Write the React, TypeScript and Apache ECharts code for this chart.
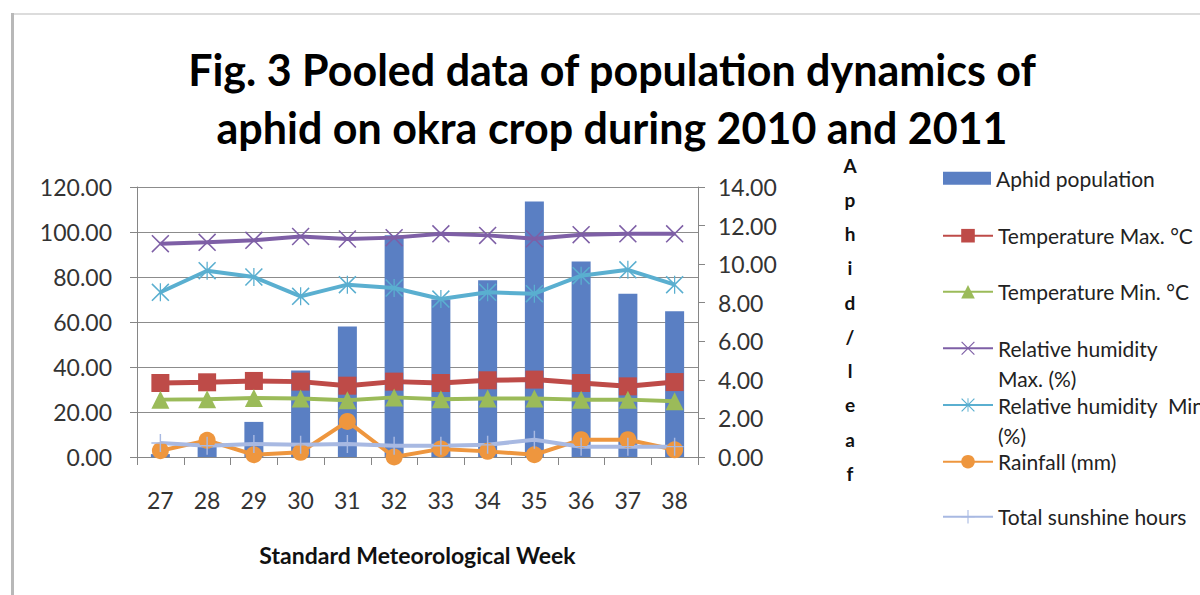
import React, { useEffect, useRef } from "react";
import * as echarts from "echarts";

const weeks = ["27", "28", "29", "30", "31", "32", "33", "34", "35", "36", "37", "38"];
const aphidPopulation = [0.15, 0.82, 1.82, 4.49, 6.77, 11.5, 8.17, 9.17, 13.25, 10.14, 8.47, 7.56];
const tempMax = [32.9, 33.2, 33.8, 33.5, 31.7, 33.5, 32.9, 34.1, 34.4, 32.9, 31.4, 33.3];
const tempMin = [25.5, 25.7, 26.2, 26.0, 25.2, 26.5, 25.7, 26.0, 26.0, 25.5, 25.5, 24.8];
const rhMax = [94.8, 95.4, 96.3, 98.0, 96.9, 97.5, 99.2, 98.5, 97.0, 98.8, 99.2, 99.2];
const rhMin = [73.2, 82.8, 80.0, 71.4, 76.6, 75.1, 70.2, 73.2, 72.6, 80.6, 83.2, 76.6];
const rainfall = [2.8, 7.4, 1.0, 2.1, 15.8, 0.0, 3.6, 2.5, 1.0, 7.7, 7.7, 3.2];
const sunshine = [6.2, 5.0, 5.8, 5.4, 5.8, 5.0, 5.0, 5.4, 7.7, 4.6, 4.6, 4.6];

const leftTicks = { min: 0, max: 120, interval: 20 };
const rightTicks = { min: 0, max: 14, interval: 2 };

const NAMES = {
  aphid: "Aphid population",
  tmax: "Temperature Max. °C",
  tmin: "Temperature Min. °C",
  rhmax: "Relative humidity Max. (%)",
  rhmin: "Relative humidity  Min (%)",
  rain: "Rainfall (mm)",
  sun: "Total sunshine hours",
};

const X_PATH = "path://M0,1.2 L1.2,0 L10,8.8 L18.8,0 L20,1.2 L11.2,10 L20,18.8 L18.8,20 L10,11.2 L1.2,20 L0,18.8 L8.8,10 Z";
const STAR_PATH =
  "path://M0,1.2 L1.2,0 L10,8.8 L18.8,0 L20,1.2 L11.2,10 L20,18.8 L18.8,20 L10,11.2 L1.2,20 L0,18.8 L8.8,10 Z M9.3,0 L10.7,0 L10.7,20 L9.3,20 Z";
const PLUS_PATH = "path://M9.2,0 L10.8,0 L10.8,9.2 L20,9.2 L20,10.8 L10.8,10.8 L10.8,20 L9.2,20 L9.2,10.8 L0,10.8 L0,9.2 L9.2,9.2 Z";

const FONT = "Lato, 'Open Sans', sans-serif";

export default function App() {
  const ref = useRef<HTMLDivElement>(null);

  useEffect(() => {
    if (!ref.current) return;
    const chart = echarts.init(ref.current, null, { renderer: "svg" });

    const lineSeries = (name: string, data: number[], color: string, symbol: string, size: number, width = 4) => ({
      name,
      type: "line",
      yAxisIndex: 0,
      data,
      symbol,
      symbolSize: size,
      showSymbol: true,
      lineStyle: { color, width },
      itemStyle: { color },
      z: 3,
    });

    const legendTop = (cy: number, h = 24) => cy - h / 2;
    const legendBase = {
      orient: "vertical",
      left: 942,
      padding: 0,
      itemWidth: 50,
      itemHeight: 17,
      selectedMode: false,
      textStyle: { fontFamily: FONT, fontSize: 21, color: "#222", lineHeight: 24 },
    };

    const option: any = {
      animation: false,
      backgroundColor: "#ffffff",
      textStyle: { fontFamily: FONT },
      graphic: [
        { type: "rect", left: 11, top: 13, shape: { width: 1200, height: 2 }, style: { fill: "#dcdcdc" }, silent: true },
        { type: "rect", left: 11, top: 13, shape: { width: 3, height: 600 }, style: { fill: "#b8b8b8" }, silent: true },
        {
          type: "text",
          x: 612,
          y: 40,
          style: {
            text: "Fig. 3 Pooled data of population dynamics of\naphid on okra crop during 2010 and 2011",
            align: "center",
            verticalAlign: "top",
            font: `bold 43px ${FONT}`,
            lineHeight: 58,
            fill: "#000",
          },
        },
        {
          type: "text",
          x: 850,
          y: 148,
          style: {
            text: "A\np\nh\ni\nd\n/\nl\ne\na\nf",
            align: "center",
            verticalAlign: "top",
            font: `bold 19px ${FONT}`,
            lineHeight: 34.26,
            fill: "#111",
          },
        },
        {
          type: "text",
          x: 998,
          y: 378,
          style: { text: "Max. (%)", verticalAlign: "middle", font: `21px ${FONT}`, fill: "#222" },
        },
        {
          type: "text",
          x: 998,
          y: 435,
          style: { text: "(%)", verticalAlign: "middle", font: `21px ${FONT}`, fill: "#222" },
        },
      ],
      legend: [
        { ...legendBase, itemHeight: 13, itemWidth: 48, left: 943, top: legendTop(178.3), data: [{ name: NAMES.aphid, icon: "rect" }] },
        { ...legendBase, top: legendTop(235.7), data: [NAMES.tmax] },
        { ...legendBase, top: legendTop(291.7), data: [NAMES.tmin] },
        { ...legendBase, top: legendTop(348.3), data: [NAMES.rhmax], formatter: () => "Relative humidity" },
        { ...legendBase, top: legendTop(405), data: [NAMES.rhmin], formatter: () => "Relative humidity  Min" },
        { ...legendBase, top: legendTop(461.7), data: [NAMES.rain] },
        { ...legendBase, top: legendTop(516.7), data: [NAMES.sun] },
      ],
      grid: { left: 137, right: 502, top: 187, height: 270, containLabel: false },
      xAxis: {
        type: "category",
        data: weeks,
        boundaryGap: true,
        axisLine: { show: true, lineStyle: { color: "#868686", width: 1 } },
        axisTick: { show: true, interval: 0, length: 8, lineStyle: { color: "#868686" } },
        axisLabel: { fontFamily: FONT, fontSize: 23, color: "#333", margin: 31, interval: 0 },
        name: "Standard Meteorological Week",
        nameLocation: "middle",
        nameGap: 86,
        nameTextStyle: { fontFamily: FONT, fontSize: 23, fontWeight: "bold", color: "#111" },
      },
      yAxis: [
        {
          type: "value",
          ...leftTicks,
          axisLine: { show: true, lineStyle: { color: "#868686", width: 1 } },
          axisTick: { show: true, length: 7, lineStyle: { color: "#868686" } },
          splitLine: { show: true, lineStyle: { color: "#8c8c8c", width: 1 } },
          axisLabel: {
            fontFamily: FONT,
            fontSize: 23,
            color: "#333",
            margin: 25,
            formatter: (v: number) => v.toFixed(2),
          },
        },
        {
          type: "value",
          position: "right",
          ...rightTicks,
          axisLine: { show: true, lineStyle: { color: "#868686", width: 1 } },
          axisTick: { show: true, length: 7, lineStyle: { color: "#868686" } },
          splitLine: { show: false },
          axisLabel: {
            fontFamily: FONT,
            fontSize: 23,
            color: "#333",
            margin: 20,
            formatter: (v: number) => v.toFixed(2),
          },
        },
      ],
      series: [
        {
          name: NAMES.aphid,
          type: "bar",
          yAxisIndex: 1,
          data: aphidPopulation,
          barWidth: 19,
          itemStyle: { color: "#5A7FC3" },
          z: 2,
        },
        lineSeries(NAMES.tmax, tempMax, "#BE4B48", "rect", 18, 5),
        lineSeries(NAMES.tmin, tempMin, "#9BBB59", "triangle", 18, 4),
        lineSeries(NAMES.rhmax, rhMax, "#7E5FA6", X_PATH, 18, 4),
        lineSeries(NAMES.rhmin, rhMin, "#5AAFD0", STAR_PATH, 18, 4),
        lineSeries(NAMES.rain, rainfall, "#EE963E", "circle", 17, 4),
        lineSeries(NAMES.sun, sunshine, "#A8B9E2", PLUS_PATH, 18, 4),
      ],
    };

    chart.setOption(option);
    return () => chart.dispose();
  }, []);

  return (
    <div
      ref={ref}
      style={{ position: "fixed", left: 0, top: 0, width: 1200, height: 595, background: "#fff" }}
    />
  );
}
